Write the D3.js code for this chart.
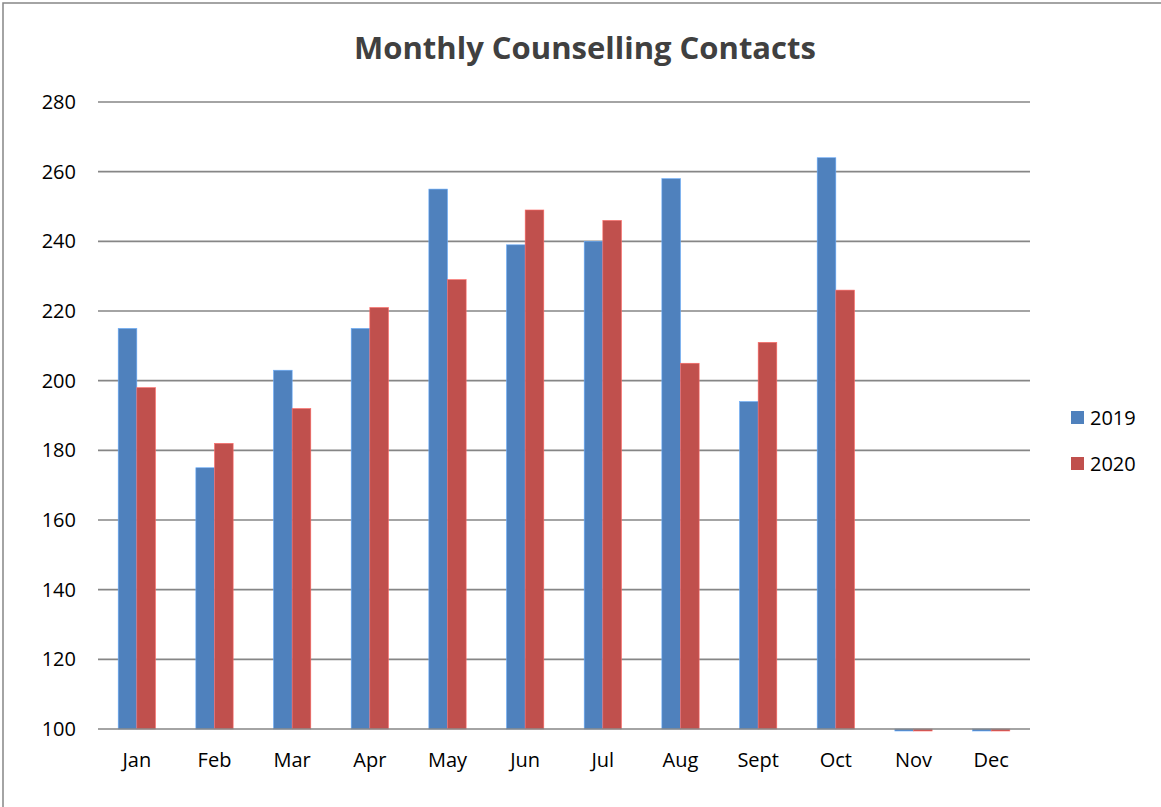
<!DOCTYPE html>
<html>
<head>
<meta charset="utf-8">
<script src="https://cdn.jsdelivr.net/npm/d3@7"></script>
<style>
  html, body { margin: 0; padding: 0; background: #fff; }
  svg { display: block; font-family: "Open Sans", "Liberation Sans", sans-serif; }
</style>
</head>
<body>
<svg id="chart" width="1161" height="807"></svg>
<script>
// ----- Data -----
const months = ["Jan", "Feb", "Mar", "Apr", "May", "Jun", "Jul", "Aug", "Sept", "Oct", "Nov", "Dec"];
const years = ["2019", "2020"];
const values2019 = [215, 175, 203, 215, 255, 239, 240, 258, 194, 264, 0, 0];
const values2020 = [198, 182, 192, 221, 229, 249, 246, 205, 211, 226, 0, 0];
const yTicks = [100, 120, 140, 160, 180, 200, 220, 240, 260, 280];
const colors = ["#4f81bd", "#c0504d"];

const rows = months.map((m, i) => ({ month: m, vals: [values2019[i], values2020[i]] }));

// ----- Layout -----
const svg = d3.select("#chart");
const width = 1161, height = 807;
const plot = { left: 98, right: 1030, top: 102, bottom: 729 };

// outer frame (only left/top edges show in the picture)
svg.append("rect")
    .attr("x", 3).attr("y", 3)
    .attr("width", width + 10).attr("height", height + 10)
    .attr("fill", "#fff").attr("stroke", "#868686").attr("stroke-width", 1.5);

const x = d3.scaleBand().domain(months).range([plot.left, plot.right]).paddingInner(0).paddingOuter(0);
const inner = d3.scaleBand().domain(years).range([0, x.bandwidth() * 0.48]);
const y = d3.scaleLinear().domain([100, 280]).range([plot.bottom, plot.top]);

// gridlines
svg.append("g")
    .selectAll("line")
    .data(yTicks.slice(1))
    .join("line")
    .attr("x1", plot.left).attr("x2", plot.right)
    .attr("y1", (d) => y(d)).attr("y2", (d) => y(d))
    .attr("stroke", "#868686").attr("stroke-width", 1.6);

// y tick labels
svg.append("g")
    .selectAll("text")
    .data(yTicks)
    .join("text")
    .attr("x", 76)
    .attr("y", (d) => y(d))
    .attr("dy", "0.35em")
    .attr("text-anchor", "end")
    .attr("font-size", 20)
    .attr("fill", "#000")
    .text((d) => d);

// bars
const groupOffset = (x.bandwidth() - x.bandwidth() * 0.48) / 2;
const groups = svg.append("g")
    .selectAll("g")
    .data(rows)
    .join("g")
    .attr("transform", (d) => `translate(${x(d.month) + groupOffset},0)`);

groups.selectAll("rect")
    .data((d) => d.vals.map((v, k) => ({ v, k })))
    .join("rect")
    .attr("x", (d) => inner(years[d.k]))
    .attr("width", inner.bandwidth())
    .attr("y", (d) => (d.v <= 100 ? y(100) : y(d.v)))
    .attr("height", (d) => (d.v <= 100 ? 2 : y(100) - y(d.v)))
    .attr("fill", (d) => colors[d.k])
    .attr("stroke", (d) => d3.color(colors[d.k]).brighter(0.8))
    .attr("stroke-width", 0.6);

// x axis line
svg.append("line")
    .attr("x1", plot.left).attr("x2", plot.right)
    .attr("y1", y(100)).attr("y2", y(100))
    .attr("stroke", "#868686").attr("stroke-width", 1.6);

// x labels
svg.append("g")
    .selectAll("text")
    .data(months)
    .join("text")
    .attr("x", (d) => x(d) + x.bandwidth() / 2)
    .attr("y", 767)
    .attr("text-anchor", "middle")
    .attr("font-size", 20)
    .attr("fill", "#000")
    .text((d) => d);

// title
svg.append("text")
    .attr("x", 585).attr("y", 59)
    .attr("text-anchor", "middle")
    .attr("font-size", 31)
    .attr("font-weight", "bold")
    .attr("fill", "#404040")
    .text("Monthly Counselling Contacts");

// legend
const legend = svg.append("g")
    .selectAll("g")
    .data(years)
    .join("g")
    .attr("transform", (d, i) => `translate(1071,${411 + i * 46})`);
legend.append("rect").attr("width", 13).attr("height", 13).attr("fill", (d, i) => colors[i]);
legend.append("text")
    .attr("x", 19).attr("y", 7).attr("dy", "0.35em")
    .attr("font-size", 20).attr("fill", "#000")
    .text((d) => d);
</script>
</body>
</html>
